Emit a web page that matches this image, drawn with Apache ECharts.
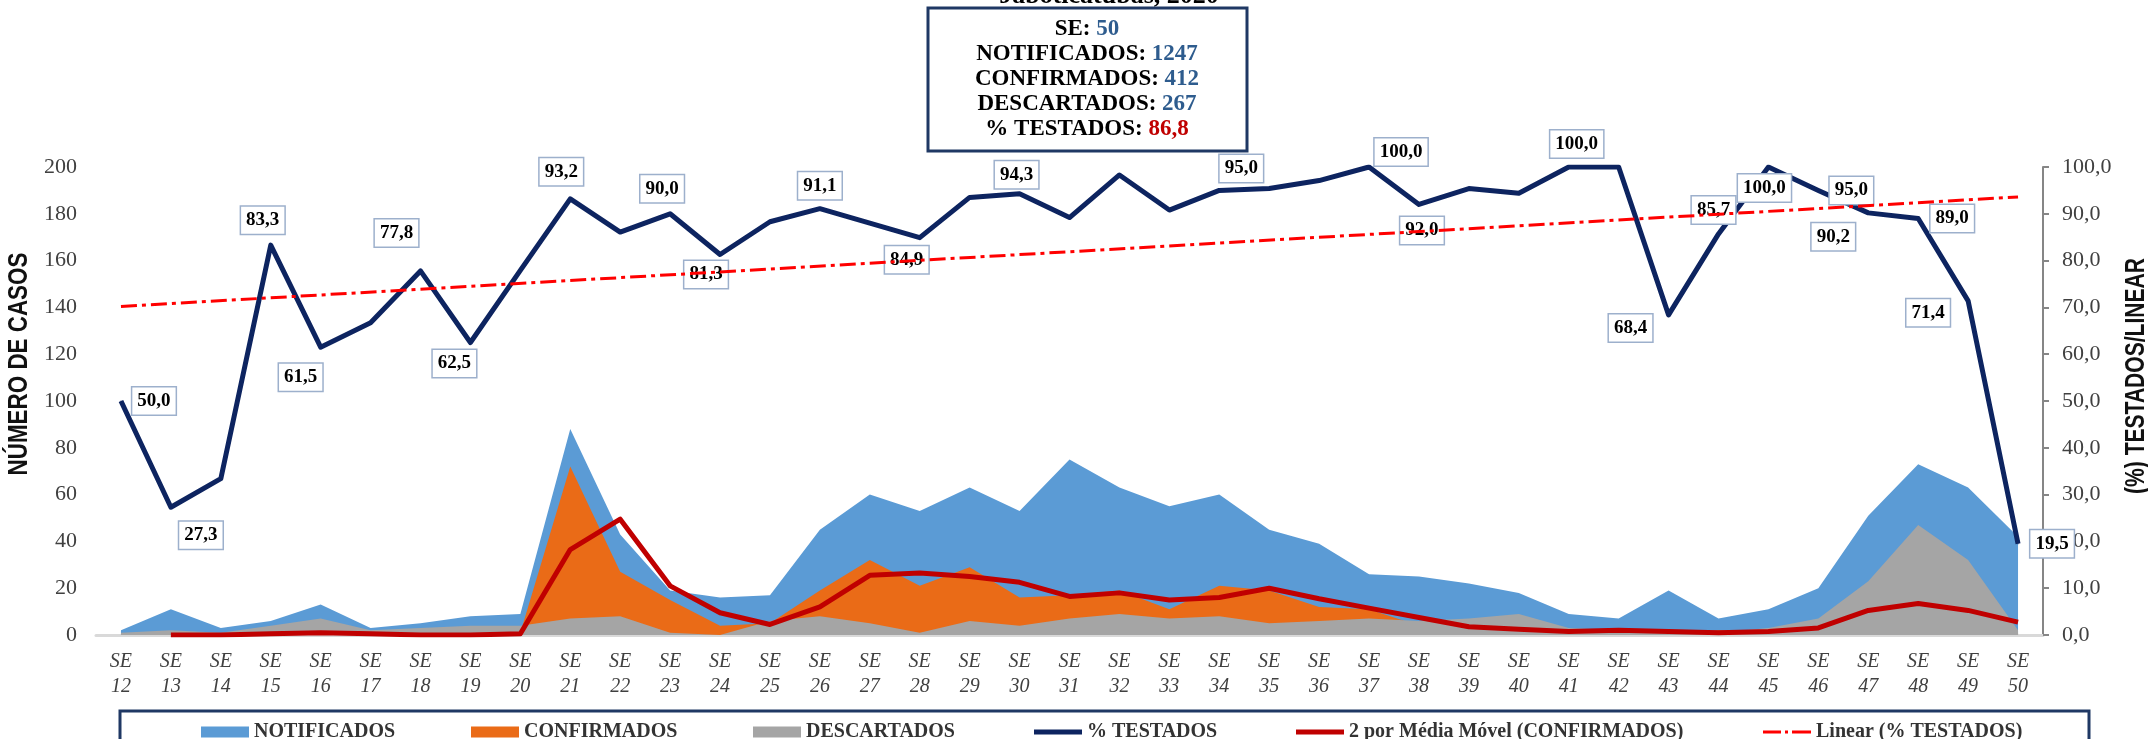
<!DOCTYPE html>
<html>
<head>
<meta charset="utf-8">
<script src="https://cdn.jsdelivr.net/npm/echarts@6/dist/echarts.min.js"></script>
<style>
html, body { margin: 0; padding: 0; background: #fff; }
#chart { width: 2148px; height: 739px; }
</style>
</head>
<body>
<div id="chart"></div>
<script>
// semanas epidemiologicas
var semanas = [12,13,14,15,16,17,18,19,20,21,22,23,24,25,26,27,28,29,30,31,32,33,34,35,36,37,38,39,40,41,42,43,44,45,46,47,48,49,50];

var notificados = [2,11,3,6,13,3,5,8,9,88,43,19,16,17,45,60,53,63,53,75,63,55,60,45,39,26,25,22,18,9,7,19,7,11,20,51,73,63,42];
var confirmados = [0,0,0,1,1,0,0,0,1,72,27,15,4,5,19,32,21,29,16,17,19,11,21,19,12,11,4,3,2,1,3,0,2,1,5,16,11,10,1];
var descartados = [1,2,1,4,7,2,3,4,4,7,8,1,0,6,8,5,1,6,4,7,9,7,8,5,6,7,6,7,9,3,2,2,1,3,7,23,47,32,2];
var mediaMovel = [null,0,0,0.5,1,0.5,0,0,0.5,36.5,49.5,21,9.5,4.5,12,25.5,26.5,25,22.5,16.5,18,15,16,20,15.5,11.5,7.5,3.5,2.5,1.5,2,1.5,1,1.5,3,10.5,13.5,10.5,5.5];
var testados = [50.0,27.3,33.4,83.3,61.5,66.7,77.8,62.5,77.9,93.2,86.1,90.0,81.3,88.3,91.1,88.0,84.9,93.5,94.3,89.2,98.3,90.8,95.0,95.4,97.1,100.0,92.0,95.4,94.4,100.0,100.0,68.4,85.7,100.0,95.0,90.2,89.0,71.4,19.5];
var linearInicioFim = [70.2, 93.6];

var resumoNomes = ['SE', 'NOTIFICADOS', 'CONFIRMADOS', 'DESCARTADOS', '% TESTADOS'];
var resumoValores = ['50', '1247', '412', '267', '86,8'];

// posicao dos rotulos de % testados (deslocamento em px a partir do ponto)
var rotulos = {
	0: [33, 0], 1: [30, 28], 3: [-8, -25], 4: [-20, 30], 6: [-24, -38], 7: [-16, 21],
	9: [-9, -27], 11: [-8, -25], 12: [-14, 20], 14: [0, -23], 16: [-13, 22], 18: [-3, -19],
	22: [22, -22], 25: [32, -15], 26: [3, 26], 29: [8, -23], 31: [-38, 13], 32: [-5, -24],
	33: [-4, 21], 34: [33, 0], 35: [-35, 24], 36: [34, 0], 37: [-40, 12], 38: [34, 0]
};

var serif = '"Liberation Serif", "Times New Roman", serif';
var sans = '"Liberation Sans", Arial, sans-serif';
var fmt = function(v) { return Number(v).toFixed(1).replace('.', ','); };

var testadosData = testados.map(function(v, i) {
	if (!rotulos[i]) return v;
	return { value: v, label: { show: true, offset: rotulos[i] } };
});
var linearData = semanas.map(function(s, i) {
	if (i === 0) return linearInicioFim[0];
	if (i === semanas.length - 1) return linearInicioFim[1];
	return null;
});

var myChart = echarts.init(document.getElementById('chart'));

var legendas = [
	{ name: 'NOTIFICADOS', left: 196, icon: 'rect', h: 11 },
	{ name: 'CONFIRMADOS', left: 466, icon: 'rect', h: 11 },
	{ name: 'DESCARTADOS', left: 748, icon: 'rect', h: 11 },
	{ name: '% TESTADOS', left: 1029, icon: 'rect', h: 5 },
	{ name: '2 por Média Móvel (CONFIRMADOS)', left: 1291, icon: 'rect', h: 5 },
	{ name: 'Linear (% TESTADOS)', left: 1758, icon: 'path://M0,0H18V3H0Z M22,0H25V3H22Z M29,0H48V3H29Z', h: 3 }
];

var resumoTexto = resumoNomes.map(function(n, i) {
	return '{k|' + n + ': }{' + (i === 4 ? 'r' : 'v') + '|' + resumoValores[i] + '}';
}).join('\n');

var option = {
	animation: false,
	backgroundColor: '#fff',
	grid: { left: 96, right: 105, top: 167, bottom: 104 },
	legend: legendas.map(function(l) {
		return {
			data: [{ name: l.name, icon: l.icon }],
			left: l.left,
			top: 716,
			itemWidth: 48,
			itemHeight: l.h,
			selectedMode: false,
			textStyle: { fontFamily: serif, fontWeight: 'bold', fontSize: 20, color: '#333', lineHeight: 22 }
		};
	}),
	xAxis: [{
		type: 'category',
		data: semanas.map(function(s) { return 'SE\n' + s; }),
		boundaryGap: true,
		axisLine: { lineStyle: { color: '#D9D9D9', width: 3 } },
		axisTick: { show: false },
		axisLabel: { interval: 0, fontFamily: serif, fontStyle: 'italic', fontSize: 20, lineHeight: 25, color: '#404040', margin: 14 }
	}],
	yAxis: [
		{
			type: 'value', min: 0, max: 200, interval: 20,
			splitLine: { show: false },
			axisLine: { show: false },
			axisTick: { show: false },
			axisLabel: { fontFamily: serif, fontSize: 22, color: '#404040', margin: 19 }
		},
		{
			type: 'value', min: 0, max: 100, interval: 10, position: 'right',
			splitLine: { show: false },
			axisLine: { show: true, lineStyle: { color: '#868686', width: 2 } },
			axisTick: { show: true, length: 6, lineStyle: { color: '#868686', width: 2 } },
			axisLabel: { fontFamily: serif, fontSize: 22, color: '#404040', margin: 19, formatter: fmt }
		}
	],
	series: [
		{
			name: 'NOTIFICADOS', type: 'line', data: notificados, symbol: 'none',
			lineStyle: { width: 0 }, itemStyle: { color: '#5B9BD5' },
			areaStyle: { color: '#5B9BD5', opacity: 1 }
		},
		{
			name: 'CONFIRMADOS', type: 'line', data: confirmados, symbol: 'none',
			lineStyle: { width: 0 }, itemStyle: { color: '#EA6B17' },
			areaStyle: { color: '#EA6B17', opacity: 1 }
		},
		{
			name: 'DESCARTADOS', type: 'line', data: descartados, symbol: 'none',
			lineStyle: { width: 0 }, itemStyle: { color: '#A5A5A5' },
			areaStyle: { color: '#A5A5A5', opacity: 1 }
		},
		{
			name: '2 por Média Móvel (CONFIRMADOS)', type: 'line', data: mediaMovel, symbol: 'none',
			lineStyle: { color: '#C00000', width: 5, join: 'round' }, itemStyle: { color: '#C00000' },
			z: 3
		},
		{
			name: '% TESTADOS', type: 'line', yAxisIndex: 1, data: testadosData,
			symbol: 'circle', symbolSize: 1, showAllSymbol: true,
			lineStyle: { color: '#0D2460', width: 5, join: 'round' }, itemStyle: { color: '#0D2460' },
			label: {
				show: false, position: 'inside',
				formatter: function(p) { return fmt(p.value); },
				fontFamily: serif, fontWeight: 'bold', fontSize: 19, lineHeight: 20, color: '#000',
				backgroundColor: '#fff', borderColor: '#9DB0CC', borderWidth: 1.5,
				padding: [4, 5, 3, 5]
			},
			z: 4
		},
		{
			name: 'Linear (% TESTADOS)', type: 'line', yAxisIndex: 1, data: linearData,
			connectNulls: true, symbol: 'none',
			lineStyle: { color: '#FF0000', width: 3, type: [16, 5, 4, 5] }, itemStyle: { color: '#FF0000' },
			z: 6
		}
	],
	graphic: [
		{
			type: 'text', x: 1109, y: -4,
			style: { text: 'Jaboticatubas, 2020', font: 'bold 26px ' + serif, fill: '#000',
				align: 'center', verticalAlign: 'middle', textAlign: 'center', textVerticalAlign: 'middle' }
		},
		{
			type: 'rect', shape: { x: 928, y: 8, width: 319, height: 143 },
			style: { fill: '#fff', stroke: '#1F3864', lineWidth: 3 }
		},
		{
			type: 'text', x: 1087, y: 79,
			style: {
				text: resumoTexto, align: 'center', verticalAlign: 'middle', textAlign: 'center', textVerticalAlign: 'middle',
				font: 'bold 23px ' + serif, lineHeight: 25,
				rich: {
					k: { fontFamily: serif, fontWeight: 'bold', fontSize: 23, lineHeight: 25, fill: '#000', color: '#000' },
					v: { fontFamily: serif, fontWeight: 'bold', fontSize: 23, lineHeight: 25, fill: '#2E5C8E', color: '#2E5C8E' },
					r: { fontFamily: serif, fontWeight: 'bold', fontSize: 23, lineHeight: 25, fill: '#C00000', color: '#C00000' }
				}
			}
		},
		{
			type: 'text', x: 20, y: 364, rotation: Math.PI / 2, scaleX: 0.83,
			style: { text: 'NÚMERO DE CASOS', font: 'bold 27px ' + sans, fill: '#111',
				align: 'center', verticalAlign: 'middle', textAlign: 'center', textVerticalAlign: 'middle' }
		},
		{
			type: 'text', x: 2137, y: 376, rotation: Math.PI / 2, scaleX: 0.78,
			style: { text: '(%) TESTADOS/LINEAR', font: 'bold 27px ' + sans, fill: '#111',
				align: 'center', verticalAlign: 'middle', textAlign: 'center', textVerticalAlign: 'middle' }
		},
		{
			type: 'rect', shape: { x: 120, y: 711, width: 1969, height: 50 },
			style: { fill: 'none', stroke: '#1F3864', lineWidth: 3 }
		}
	]
};

myChart.setOption(option);
</script>
</body>
</html>
